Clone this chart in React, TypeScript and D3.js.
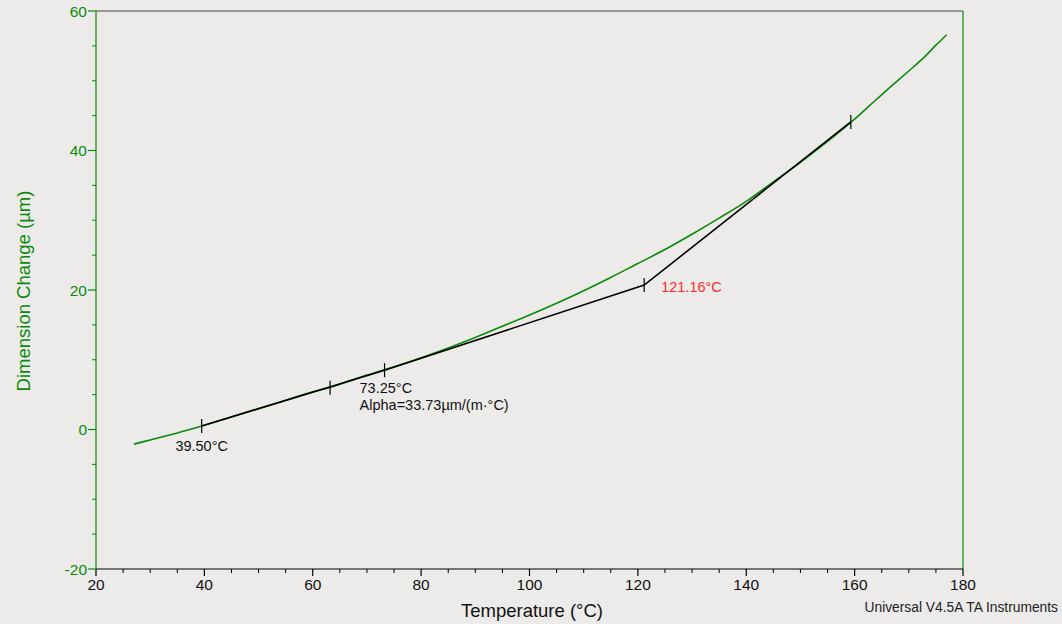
import React from "react";
import * as d3 from "d3";

// green curve: temperature (°C) vs dimension change (µm)
const temps = [27, 30, 33, 35, 40, 45, 50, 55, 60, 63, 65, 70, 75, 80, 85, 90, 95, 100, 105, 110, 115, 120, 125, 130, 135, 140, 145, 150, 155, 160, 163, 166, 170, 173, 175, 177];
const dims = [-2.1, -1.5, -0.9, -0.5, 0.6, 1.8, 3.0, 4.2, 5.4, 6.0, 6.5, 7.8, 9.0, 10.3, 11.7, 13.2, 14.8, 16.4, 18.1, 19.9, 21.8, 23.8, 25.8, 28.0, 30.3, 32.7, 35.5, 38.3, 41.3, 44.5, 46.6, 48.7, 51.4, 53.5, 55.1, 56.6];

// black analysis line and tick marks
const fitT = [39.5, 73.25, 121.16, 159.3];
const fitD = [0.5, 8.5, 20.7, 44.1];
const markT = [39.5, 63.2, 73.25, 121.16, 159.3];
const markD = [0.5, 6.0, 8.5, 20.7, 44.1];

const xTicks = [20, 40, 60, 80, 100, 120, 140, 160, 180];
const yTicks = [-20, 0, 20, 40, 60];

const W = 1062, H = 624;
const M = { left: 96, right: 963, top: 11, bottom: 569 };
const GREEN = "#0a8a0a";
const FONT = "Liberation Sans, Arial, sans-serif";

export default function App() {
  const x = d3.scaleLinear().domain([20, 180]).range([M.left, M.right]);
  const y = d3.scaleLinear().domain([-20, 60]).range([M.bottom, M.top]);

  const curve = d3.line<number>().x((_, i) => x(temps[i])).y((_, i) => y(dims[i])).curve(d3.curveMonotoneX)(temps.map((_, i) => i)) || "";
  const fit = d3.line<number>().x((_, i) => x(fitT[i])).y((_, i) => y(fitD[i]))(fitT.map((_, i) => i)) || "";

  const xMinor = d3.range(20, 181, 5).filter(v => v % 20 !== 0);
  const yMinor = d3.range(-20, 61, 5).filter(v => v % 20 !== 0);

  return (
    <div style={{ position: "absolute", left: 0, top: 0 }}>
      <svg width={W} height={H} style={{ display: "block", background: "#ecebe9", fontFamily: FONT }}>
        {/* frame */}
        <line x1={M.left} x2={M.right} y1={M.top} y2={M.top} stroke="#444" strokeWidth={1.2} />
        <line x1={M.right} x2={M.right} y1={M.top} y2={M.bottom} stroke={GREEN} strokeWidth={1.2} />
        <line x1={M.left} x2={M.right} y1={M.bottom} y2={M.bottom} stroke="#000" strokeWidth={1.2} />
        <line x1={M.left} x2={M.left} y1={M.top} y2={M.bottom} stroke={GREEN} strokeWidth={1.2} />

        {/* x axis ticks */}
        {xTicks.map(v => (
          <g key={"x" + v}>
            <line x1={x(v)} x2={x(v)} y1={M.bottom} y2={M.bottom + 7} stroke="#000" strokeWidth={1.2} />
            <text x={x(v)} y={M.bottom + 21} textAnchor="middle" fontSize={15.5} fill="#111">{v}</text>
          </g>
        ))}
        {xMinor.map(v => (
          <line key={"xm" + v} x1={x(v)} x2={x(v)} y1={M.bottom} y2={M.bottom + 4} stroke="#000" strokeWidth={1} />
        ))}

        {/* y axis ticks */}
        {yTicks.map(v => (
          <g key={"y" + v}>
            <line x1={M.left - 8} x2={M.left} y1={y(v)} y2={y(v)} stroke={GREEN} strokeWidth={1.2} />
            <text x={M.left - 9} y={y(v) + 5.5} textAnchor="end" fontSize={15.5} fill={GREEN}>{v}</text>
          </g>
        ))}
        {yMinor.map(v => (
          <line key={"ym" + v} x1={M.left - 4} x2={M.left} y1={y(v)} y2={y(v)} stroke={GREEN} strokeWidth={1} />
        ))}

        {/* data */}
        <path d={curve} fill="none" stroke={GREEN} strokeWidth={1.6} />
        <path d={fit} fill="none" stroke="#000" strokeWidth={1.6} />
        {markT.map((t, i) => (
          <line key={"m" + i} x1={x(t)} x2={x(t)} y1={y(markD[i]) - 7} y2={y(markD[i]) + 7} stroke="#000" strokeWidth={1.2} />
        ))}

        {/* annotations */}
        <text x={x(39.5)} y={y(0.5) + 25} textAnchor="middle" fontSize={14.5} fill="#111">39.50°C</text>
        <text x={x(73.25) - 25} y={y(8.5) + 23} fontSize={14.5} fill="#111">73.25°C</text>
        <text x={x(73.25) - 25} y={y(8.5) + 40} fontSize={14.5} fill="#111">Alpha=33.73µm/(m·°C)</text>
        <text x={x(121.16) + 17} y={y(20.7) + 7} fontSize={14.5} fill="#ff2a2a">121.16°C</text>

        {/* titles */}
        <text x={532} y={617} textAnchor="middle" fontSize={18.5} fill="#111">Temperature (°C)</text>
        <text transform={`translate(30,291) rotate(-90)`} textAnchor="middle" fontSize={18.5} fill={GREEN}>Dimension Change (µm)</text>
        <text x={1058} y={612} textAnchor="end" fontSize={13.8} fill="#222">Universal V4.5A TA Instruments</text>
      </svg>
    </div>
  );
}
